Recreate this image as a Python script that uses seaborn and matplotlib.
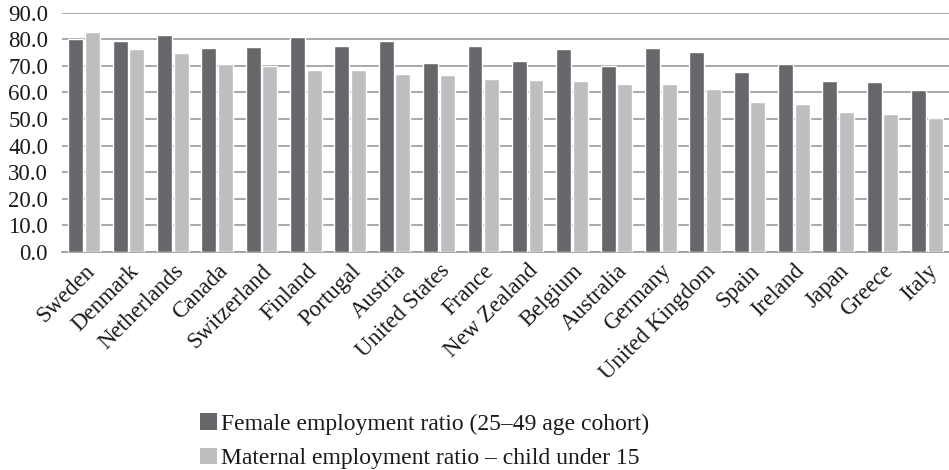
import matplotlib
matplotlib.use("Agg")
import matplotlib.pyplot as plt
from matplotlib.patches import Patch
import seaborn as sns
import pandas as pd

countries = ["Sweden", "Denmark", "Netherlands", "Canada", "Switzerland", "Finland",
             "Portugal", "Austria", "United States", "France", "New Zealand", "Belgium",
             "Australia", "Germany", "United Kingdom", "Spain", "Ireland", "Japan",
             "Greece", "Italy"]
female_ratio = [80.0, 79.5, 81.6, 76.9, 77.0, 80.9, 77.6, 79.5, 71.2, 77.6,
                71.7, 76.4, 69.8, 76.9, 75.2, 67.7, 70.6, 64.3, 64.0, 61.0]
maternal_ratio = [82.6, 76.5, 75.0, 70.6, 70.0, 68.6, 68.4, 66.8, 66.7, 64.9,
                  64.7, 64.2, 63.0, 63.1, 61.4, 56.6, 55.5, 52.5, 52.0, 50.3]
series_names = ["Female employment ratio (25\u201349 age cohort)",
                "Maternal employment ratio \u2013 child under 15"]
yticks = [0, 10, 20, 30, 40, 50, 60, 70, 80, 90]

colors = ["#67676b", "#bdbec0"]

df = pd.DataFrame({
    "country": countries * 2,
    "value": female_ratio + maternal_ratio,
    "series": [series_names[0]] * len(countries) + [series_names[1]] * len(countries),
})

sns.set_theme(style="white")
plt.rcParams["font.family"] = ["Liberation Serif", "DejaVu Serif"]

fig = plt.figure(figsize=(9.49, 4.70), dpi=100)
ax = fig.add_axes([62 / 949, 1 - 252 / 470, 1 - 62 / 949, (252 - 12.7) / 470])

sns.barplot(data=df, x="country", y="value", hue="series", palette=colors,
            width=0.75, gap=0.1, saturation=1, legend=False, ax=ax, zorder=3)

ax.set_ylim(0, 90)
ax.set_yticks(yticks)
ax.set_yticklabels([f"{v:.1f}" for v in yticks], fontsize=16.5, color="#1a1a1a")
ax.set_xlim(-0.5, len(countries) - 0.5)
ax.yaxis.grid(True, color="#9a9a9a", linewidth=1.2, zorder=0)
ax.set_axisbelow(True)
for side in ["left", "right", "top"]:
    ax.spines[side].set_visible(False)
ax.spines["bottom"].set_color("#9a9a9a")
ax.spines["bottom"].set_linewidth(1.2)
ax.tick_params(axis="y", length=0, pad=10)
ax.tick_params(axis="x", length=0, pad=6)
ax.set_xlabel("")
ax.set_ylabel("")
plt.setp(ax.get_xticklabels(), rotation=45, ha="right", rotation_mode="anchor",
         fontsize=16.5, color="#1a1a1a")

handles = [Patch(facecolor=c, edgecolor="none") for c in colors]
fig.legend(handles, series_names, loc="upper left", bbox_to_anchor=(200 / 949, 1 - 413 / 470),
           frameon=False, fontsize=17, handlelength=0.7, handleheight=0.7,
           handletextpad=0.2, labelspacing=0.55, borderpad=0, borderaxespad=0,
           labelcolor="#1a1a1a")

fig.savefig("out.png", dpi=100)
